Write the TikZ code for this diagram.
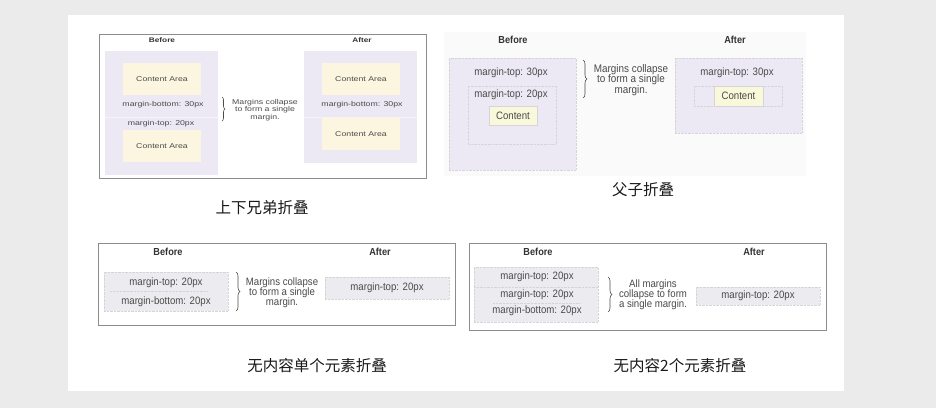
\documentclass[tikz,border=0pt]{standalone}
\usepackage{fontspec}
\setmainfont{Liberation Sans}
\newfontfamily\cjk{Noto Sans CJK SC}
\newfontfamily\wideface[FakeStretch=1.25]{Liberation Sans}
\newfontfamily\narrowface[FakeStretch=0.9]{Liberation Sans}
\usetikzlibrary{decorations.pathreplacing}

\definecolor{pagegray}{HTML}{EBEBEB}
\definecolor{framegray}{HTML}{8C8C8C}
\definecolor{lav}{HTML}{ECE9F4}
\definecolor{cream}{HTML}{FCF6E0}
\definecolor{pale}{HTML}{FAF8DA}
\definecolor{boxgray}{HTML}{ECECF0}
\definecolor{dotgray}{HTML}{D4D4DA}
\definecolor{labelgray}{HTML}{4A4A4A}

\tikzset{
  lavbox/.style={fill=lav, inner sep=0pt},
  areabox/.style={fill=cream, inner sep=0pt},
  dotbox/.style={draw=dotgray, densely dotted, inner sep=0pt},
  contentbox/.style={fill=pale, draw=dotgray, inner sep=0pt},
  graybox/.style={fill=boxgray, draw=dotgray, densely dotted, inner sep=0pt},
  frame/.style={draw=framegray, line width=0.9pt},
  brc/.style={draw=labelgray, line width=0.6pt, decorate, decoration={brace, amplitude=4pt}},
  tiny/.style={text=labelgray, font=\wideface\fontsize{7}{7.5}\selectfont, inner sep=0pt, align=center},
  tinyhead/.style={text=black!80, font=\wideface\bfseries\fontsize{6.6}{7}\selectfont, inner sep=0pt},
  lbl/.style={text=labelgray, font=\narrowface\fontsize{10.7}{10}\selectfont, inner sep=0pt, align=center},
  head/.style={text=black!80, font=\narrowface\bfseries\fontsize{10.2}{10}\selectfont, inner sep=0pt},
  caption/.style={text=black!90, font=\cjk\fontsize{15.5}{16}\selectfont, inner sep=0pt}
}

\begin{document}
\begin{tikzpicture}[x=1pt, y=-1pt]
  \useasboundingbox (0,0) rectangle (936,408);
  \fill[pagegray] (0,0) rectangle (936,408);
  \fill[white] (68,15) rectangle (844,391);

  \draw[frame] (99,34) rectangle (426,178);
  \node[tinyhead] (sibBefore) at (162,40) {Before};
  \node[tinyhead] (sibAfter) at (362,40) {After};
  \node[lavbox, minimum width=113pt, minimum height=124pt] (sibOld) at (161.5,113) {};
  \draw[white!50!lav] (105,117) -- (218,117);
  \node[areabox, minimum width=78pt, minimum height=32pt] (sibOldA) at (162,79) {};
  \node[tiny] at (sibOldA) {Content Area};
  \node[areabox, minimum width=78pt, minimum height=32pt] (sibOldB) at (162,146) {};
  \node[tiny] at (sibOldB) {Content Area};
  \node[tiny] (sibOldMb) at (163,105) {margin-bottom: 30px};
  \node[tiny] (sibOldMt) at (161,124) {margin-top: 20px};
  \coordinate (sibBraceTop) at (222,97);
  \coordinate (sibBraceBot) at (222,121);
  \draw[brc, decoration={amplitude=3pt}] (sibBraceTop) -- (sibBraceBot);
  \node[tiny] (sibNote) at (265,110) {Margins collapse\\to form a single\\margin.};
  \node[lavbox, minimum width=113pt, minimum height=112pt] (sibNew) at (360.5,107) {};
  \draw[white!50!lav] (304,117) -- (417,117);
  \node[areabox, minimum width=78pt, minimum height=32pt] (sibNewA) at (361,79) {};
  \node[tiny] at (sibNewA) {Content Area};
  \node[areabox, minimum width=78pt, minimum height=32pt] (sibNewB) at (361,134) {};
  \node[tiny] at (sibNewB) {Content Area};
  \node[tiny] (sibNewMb) at (362,105) {margin-bottom: 30px};
  \node[caption] (sibCap) at (262,208) {上下兄弟折叠};

  \fill[black!2] (444,32) rectangle (806,176);
  \node[head] (parBefore) at (513,40) {Before};
  \node[head] (parAfter) at (735,40) {After};
  \node[lavbox, dotbox, fill=lav, minimum width=127pt, minimum height=112pt] (parOld) at (512.5,114) {};
  \node[dotbox, minimum width=88pt, minimum height=58pt] (parOldIn) at (512,115) {};
  \node[lbl] (parOldMt) at (511,73) {margin-top: 30px};
  \node[lbl] (parOldMtIn) at (511,95) {margin-top: 20px};
  \node[contentbox, minimum width=48pt, minimum height=19pt] (parOldC) at (513,115.5) {};
  \node[lbl] at (parOldC) {Content};
  \coordinate (parBraceTop) at (583,60);
  \coordinate (parBraceBot) at (583,98);
  \draw[brc] (parBraceTop) -- (parBraceBot);
  \node[lbl, font=\narrowface\fontsize{11}{10.5}\selectfont] (parNote) at (631,80) {Margins collapse\\to form a single\\margin.};
  \node[lavbox, dotbox, fill=lav, minimum width=127pt, minimum height=75pt] (parNew) at (738.5,95.5) {};
  \node[lbl] (parNewMt) at (737,73) {margin-top: 30px};
  \node[dotbox, minimum width=88pt, minimum height=20pt] (parNewIn) at (738,96) {};
  \node[contentbox, minimum width=49pt, minimum height=20pt] (parNewC) at (738.5,96) {};
  \node[lbl] at (parNewC) {Content};
  \node[caption] (parCap) at (643,190) {父子折叠};

  \draw[frame] (98,243) rectangle (455,325);
  \node[head] (oneBefore) at (168,252) {Before};
  \node[head] (oneAfter) at (380,252) {After};
  \node[graybox, minimum width=124pt, minimum height=39pt] (oneOld) at (166,291.5) {};
  \draw[dotgray, densely dotted] (110,291) -- (208,291);
  \node[lbl] (oneOldMt) at (166,283) {margin-top: 20px};
  \node[lbl] (oneOldMb) at (166,302) {margin-bottom: 20px};
  \coordinate (oneBraceTop) at (236,272);
  \coordinate (oneBraceBot) at (236,311);
  \draw[brc] (oneBraceTop) -- (oneBraceBot);
  \node[lbl] (oneNote) at (282,293) {Margins collapse\\to form a single\\margin.};
  \node[graybox, minimum width=124pt, minimum height=22pt] (oneNew) at (387,288) {};
  \node[lbl] at (oneNew) {margin-top: 20px};
  \node[caption] (oneCap) at (317,366) {无内容单个元素折叠};

  \draw[frame] (469,243) rectangle (826,330);
  \node[head] (twoBefore) at (538,252) {Before};
  \node[head] (twoAfter) at (754,252) {After};
  \node[graybox, minimum width=124pt, minimum height=55pt] (twoOld) at (536,294.5) {};
  \draw[dotgray, densely dotted] (474,287) -- (598,287);
  \draw[dotgray, densely dotted] (493,303) -- (580,303);
  \node[lbl] (twoOldMtA) at (537,277) {margin-top: 20px};
  \node[lbl] (twoOldMtB) at (537,295) {margin-top: 20px};
  \node[lbl] (twoOldMb) at (537,311) {margin-bottom: 20px};
  \coordinate (twoBraceTop) at (608,277);
  \coordinate (twoBraceBot) at (608,312);
  \draw[brc] (twoBraceTop) -- (twoBraceBot);
  \node[lbl] (twoNote) at (653,295) {All margins\\collapse to form\\a single margin.};
  \node[graybox, minimum width=124pt, minimum height=18pt] (twoNew) at (758,296) {};
  \node[lbl] at (twoNew) {margin-top: 20px};
  \node[caption] (twoCap) at (680,366) {无内容2个元素折叠};
\end{tikzpicture}
\end{document}
